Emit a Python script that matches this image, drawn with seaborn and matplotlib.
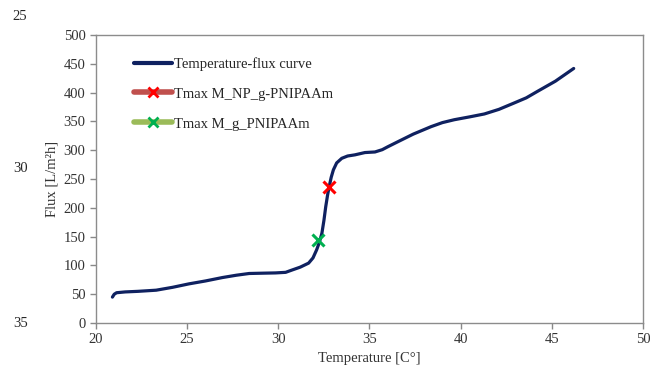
import pandas as pd
import matplotlib.pyplot as plt
import seaborn as sns
from matplotlib.lines import Line2D

sns.set_style('white')
plt.rcParams['font.family'] = ['Liberation Serif', 'DejaVu Serif']

# values
temperature = [20.9, 21.0, 21.13, 21.6, 22.3, 23.3, 24.2, 25.1, 26.0, 26.94, 27.7, 28.4,
               29.1, 29.85, 30.4, 30.75, 31.2, 31.66, 31.9, 32.1, 32.25, 32.39, 32.5,
               32.6, 32.7, 32.79, 32.9, 33.02, 33.2, 33.48, 33.8, 34.2, 34.75, 35.3,
               35.7, 36.0, 36.57, 37.4, 38.38, 39.0, 39.65, 40.5, 41.3, 42.1, 42.93,
               43.6, 44.2, 45.2, 46.2]
flux = [45, 50, 52.6, 54, 55, 57, 62, 68, 73, 79, 83, 86,
        86.5, 87, 88, 92, 97, 104, 113, 127, 140, 156, 178,
        202, 222, 237, 253, 266, 278, 286, 290, 292, 296, 297,
        301, 306, 315, 328, 341, 348, 353, 358, 363, 371, 382,
        391, 402, 420, 442]

tmax_np = (32.79, 237)
tmax_g = (32.15, 145)

df = pd.DataFrame({'Temperature': temperature, 'Flux': flux})

fig = plt.figure(figsize=(6.5, 3.73), dpi=100)
ax = fig.add_axes([0.1477, 0.134, 0.8415, 0.772])

sns.lineplot(data=df, x='Temperature', y='Flux', ax=ax, color='#0F2160',
             linewidth=2.3, sort=False, estimator=None)
ax.plot(*tmax_np, marker='x', color='#FF0000', markersize=9, mew=2.2, ls='none')
ax.plot(*tmax_g, marker='x', color='#00B050', markersize=9, mew=2.2, ls='none')

ax.set_xlim(20, 50)
ax.set_ylim(0, 500)
ax.set_xticks(range(20, 51, 5))
ax.set_yticks(range(0, 501, 50))
ax.set_xlabel('Temperature [C°]', fontsize=10.5, color='#333333')
ax.set_ylabel('Flux [L/m²h]', fontsize=10.5, color='#333333')
ax.tick_params(axis='both', labelsize=10.5, labelcolor='#333333', direction='out',
               length=4, width=1, bottom=True, left=True, color='#888888')
for s in ax.spines.values():
    s.set_color('#8C8C8C')
    s.set_linewidth(1)

handles = [
    Line2D([], [], color='#0F2160', lw=3),
    Line2D([], [], color='#C0504D', lw=4, marker='x', mec='#FF0000', ms=7, mew=2),
    Line2D([], [], color='#9BBB59', lw=4, marker='x', mec='#00B050', ms=7, mew=2),
]
labels = ['Temperature-flux curve', 'Tmax M_NP_g-PNIPAAm', 'Tmax M_g_PNIPAAm']
ax.legend(handles, labels, loc='upper left', bbox_to_anchor=(0.045, 0.97),
          frameon=False, fontsize=10.5, handlelength=2.6, handletextpad=0.15,
          labelspacing=1.15)

# line numbers from the source page
fig.text(0.031, 0.955, '25', fontsize=10.5, ha='center', va='center')
fig.text(0.031, 0.548, '30', fontsize=10.5, ha='center', va='center')
fig.text(0.031, 0.132, '35', fontsize=10.5, ha='center', va='center')

fig.savefig('out.png', dpi=100)
